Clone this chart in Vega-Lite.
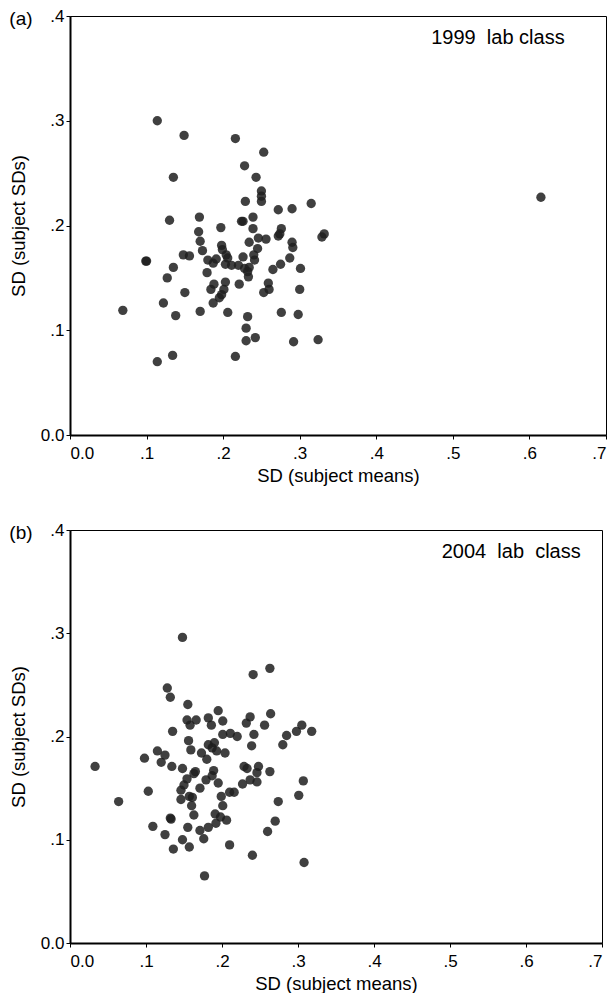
{
  "$schema": "https://vega.github.io/schema/vega-lite/v6.json",
  "padding": {"left": 8, "top": 6, "right": 0, "bottom": 0},
  "spacing": 35,
  "config": {
    "font": "Liberation Sans",
    "view": {"stroke": "#000", "strokeWidth": 1},
    "axis": {
      "grid": false, "domainColor": "#000", "domainWidth": 2, "tickColor": "#000", "tickSize": 4, "tickWidth": 1,
      "labelFontSize": 17, "labelColor": "#000", "titleFontSize": 18.5, "titleFontWeight": "normal", "titleColor": "#000",
      "labelFont": "Liberation Sans", "titleFont": "Liberation Sans"
    },
    "axisX": {"labelPadding": 6, "titlePadding": 5},
    "axisY": {"labelPadding": 2, "titlePadding": 12},
    "title": {"fontSize": 19, "fontWeight": "normal", "color": "#000", "font": "Liberation Sans", "anchor": "start", "frame": "bounds"}
  },
  "datasets": {
    "a": [
      {"x":0.114,"y":0.300},{"x":0.149,"y":0.286},{"x":0.216,"y":0.283},{"x":0.253,"y":0.270},{"x":0.228,"y":0.257},{"x":0.135,"y":0.246},{"x":0.243,"y":0.246},{"x":0.250,"y":0.233},{"x":0.250,"y":0.228},{"x":0.250,"y":0.223},{"x":0.229,"y":0.223},{"x":0.272,"y":0.215},{"x":0.290,"y":0.216},{"x":0.315,"y":0.221},{"x":0.130,"y":0.205},{"x":0.169,"y":0.208},{"x":0.226,"y":0.204},{"x":0.224,"y":0.204},{"x":0.239,"y":0.208},{"x":0.197,"y":0.198},{"x":0.239,"y":0.197},{"x":0.276,"y":0.197},{"x":0.274,"y":0.192},{"x":0.272,"y":0.190},{"x":0.332,"y":0.192},{"x":0.329,"y":0.189},{"x":0.168,"y":0.194},{"x":0.170,"y":0.185},{"x":0.173,"y":0.176},{"x":0.246,"y":0.188},{"x":0.256,"y":0.187},{"x":0.234,"y":0.184},{"x":0.290,"y":0.184},{"x":0.291,"y":0.179},{"x":0.198,"y":0.181},{"x":0.199,"y":0.177},{"x":0.245,"y":0.178},{"x":0.240,"y":0.172},{"x":0.241,"y":0.167},{"x":0.226,"y":0.170},{"x":0.287,"y":0.169},{"x":0.148,"y":0.172},{"x":0.156,"y":0.171},{"x":0.100,"y":0.166},{"x":0.099,"y":0.166},{"x":0.180,"y":0.167},{"x":0.187,"y":0.164},{"x":0.191,"y":0.168},{"x":0.204,"y":0.172},{"x":0.206,"y":0.169},{"x":0.203,"y":0.163},{"x":0.211,"y":0.162},{"x":0.220,"y":0.162},{"x":0.228,"y":0.159},{"x":0.234,"y":0.160},{"x":0.232,"y":0.156},{"x":0.233,"y":0.151},{"x":0.275,"y":0.163},{"x":0.265,"y":0.158},{"x":0.301,"y":0.159},{"x":0.135,"y":0.160},{"x":0.127,"y":0.150},{"x":0.179,"y":0.155},{"x":0.203,"y":0.146},{"x":0.188,"y":0.144},{"x":0.184,"y":0.139},{"x":0.201,"y":0.139},{"x":0.198,"y":0.134},{"x":0.195,"y":0.131},{"x":0.187,"y":0.126},{"x":0.221,"y":0.144},{"x":0.259,"y":0.145},{"x":0.260,"y":0.139},{"x":0.253,"y":0.136},{"x":0.300,"y":0.139},{"x":0.150,"y":0.136},{"x":0.122,"y":0.126},{"x":0.069,"y":0.119},{"x":0.138,"y":0.114},{"x":0.170,"y":0.118},{"x":0.206,"y":0.117},{"x":0.232,"y":0.113},{"x":0.276,"y":0.117},{"x":0.298,"y":0.115},{"x":0.230,"y":0.102},{"x":0.230,"y":0.090},{"x":0.242,"y":0.093},{"x":0.292,"y":0.089},{"x":0.324,"y":0.091},{"x":0.134,"y":0.076},{"x":0.114,"y":0.070},{"x":0.216,"y":0.075},{"x":0.615,"y":0.227}
    ],
    "b": [
      {"x":0.148,"y":0.296},{"x":0.241,"y":0.260},{"x":0.263,"y":0.266},{"x":0.128,"y":0.247},{"x":0.132,"y":0.238},{"x":0.155,"y":0.231},{"x":0.195,"y":0.225},{"x":0.264,"y":0.222},{"x":0.154,"y":0.216},{"x":0.166,"y":0.216},{"x":0.182,"y":0.218},{"x":0.201,"y":0.215},{"x":0.237,"y":0.219},{"x":0.232,"y":0.213},{"x":0.158,"y":0.211},{"x":0.186,"y":0.211},{"x":0.256,"y":0.211},{"x":0.305,"y":0.211},{"x":0.298,"y":0.205},{"x":0.318,"y":0.205},{"x":0.135,"y":0.205},{"x":0.201,"y":0.202},{"x":0.211,"y":0.203},{"x":0.220,"y":0.200},{"x":0.242,"y":0.202},{"x":0.285,"y":0.201},{"x":0.280,"y":0.192},{"x":0.239,"y":0.191},{"x":0.156,"y":0.196},{"x":0.182,"y":0.192},{"x":0.190,"y":0.194},{"x":0.187,"y":0.189},{"x":0.193,"y":0.186},{"x":0.204,"y":0.184},{"x":0.159,"y":0.187},{"x":0.173,"y":0.184},{"x":0.180,"y":0.178},{"x":0.115,"y":0.186},{"x":0.125,"y":0.182},{"x":0.098,"y":0.179},{"x":0.120,"y":0.175},{"x":0.134,"y":0.171},{"x":0.148,"y":0.169},{"x":0.033,"y":0.171},{"x":0.165,"y":0.166},{"x":0.163,"y":0.164},{"x":0.189,"y":0.167},{"x":0.187,"y":0.162},{"x":0.179,"y":0.158},{"x":0.154,"y":0.159},{"x":0.229,"y":0.171},{"x":0.233,"y":0.169},{"x":0.248,"y":0.171},{"x":0.246,"y":0.165},{"x":0.263,"y":0.166},{"x":0.237,"y":0.158},{"x":0.246,"y":0.156},{"x":0.227,"y":0.154},{"x":0.195,"y":0.155},{"x":0.307,"y":0.157},{"x":0.150,"y":0.153},{"x":0.146,"y":0.148},{"x":0.171,"y":0.150},{"x":0.103,"y":0.147},{"x":0.210,"y":0.146},{"x":0.216,"y":0.146},{"x":0.199,"y":0.142},{"x":0.301,"y":0.143},{"x":0.146,"y":0.139},{"x":0.157,"y":0.142},{"x":0.161,"y":0.141},{"x":0.064,"y":0.137},{"x":0.274,"y":0.137},{"x":0.160,"y":0.133},{"x":0.201,"y":0.133},{"x":0.191,"y":0.125},{"x":0.198,"y":0.122},{"x":0.206,"y":0.119},{"x":0.192,"y":0.116},{"x":0.163,"y":0.124},{"x":0.133,"y":0.120},{"x":0.132,"y":0.121},{"x":0.270,"y":0.118},{"x":0.109,"y":0.113},{"x":0.155,"y":0.112},{"x":0.182,"y":0.112},{"x":0.171,"y":0.109},{"x":0.260,"y":0.108},{"x":0.125,"y":0.105},{"x":0.148,"y":0.100},{"x":0.176,"y":0.101},{"x":0.136,"y":0.091},{"x":0.157,"y":0.093},{"x":0.210,"y":0.095},{"x":0.240,"y":0.085},{"x":0.308,"y":0.078},{"x":0.177,"y":0.065}
    ]
  },
  "vconcat": [
    {
      "width": 536, "height": 419,
      "title": {"text": "(a)", "offset": -22},
      "layer": [
        {
          "data": {"name": "a"},
          "mark": {"type": "circle", "size": 87, "color": "#1e1e1e", "opacity": 0.85},
          "encoding": {
            "x": {"field": "x", "type": "quantitative", "scale": {"domain": [0, 0.7], "nice": false},
                  "axis": {"values": [0, 0.1, 0.2, 0.3, 0.4, 0.5, 0.6, 0.7], "labelExpr": "datum.value == 0 ? '0.0' : substring(format(datum.value, '.1f'), 1)", "title": "SD (subject means)"}},
            "y": {"field": "y", "type": "quantitative", "scale": {"domain": [0, 0.4], "nice": false},
                  "axis": {"values": [0, 0.1, 0.2, 0.3, 0.4], "labelExpr": "datum.value == 0 ? '0.0' : substring(format(datum.value, '.1f'), 1)", "title": "SD (subject SDs)"}}
          }
        },
        {
          "data": {"values": [{"label": "1999\u00a0 lab class"}]},
          "mark": {"type": "text", "align": "right", "baseline": "middle", "fontSize": 20, "color": "#000", "font": "Liberation Sans"},
          "encoding": {
            "x": {"datum": 0.646, "type": "quantitative"},
            "y": {"datum": 0.379, "type": "quantitative"},
            "text": {"field": "label"}
          }
        }
      ]
    },
    {
      "width": 532, "height": 413,
      "title": {"text": "(b)", "offset": -22},
      "layer": [
        {
          "data": {"name": "b"},
          "mark": {"type": "circle", "size": 87, "color": "#1e1e1e", "opacity": 0.85},
          "encoding": {
            "x": {"field": "x", "type": "quantitative", "scale": {"domain": [0, 0.7], "nice": false},
                  "axis": {"values": [0, 0.1, 0.2, 0.3, 0.4, 0.5, 0.6, 0.7], "labelExpr": "datum.value == 0 ? '0.0' : substring(format(datum.value, '.1f'), 1)", "title": "SD (subject means)"}},
            "y": {"field": "y", "type": "quantitative", "scale": {"domain": [0, 0.4], "nice": false},
                  "axis": {"values": [0, 0.1, 0.2, 0.3, 0.4], "labelExpr": "datum.value == 0 ? '0.0' : substring(format(datum.value, '.1f'), 1)", "title": "SD (subject SDs)"}}
          }
        },
        {
          "data": {"values": [{"label": "2004\u00a0 lab\u00a0 class"}]},
          "mark": {"type": "text", "align": "right", "baseline": "middle", "fontSize": 20, "color": "#000", "font": "Liberation Sans"},
          "encoding": {
            "x": {"datum": 0.672, "type": "quantitative"},
            "y": {"datum": 0.379, "type": "quantitative"},
            "text": {"field": "label"}
          }
        }
      ]
    }
  ]
}
